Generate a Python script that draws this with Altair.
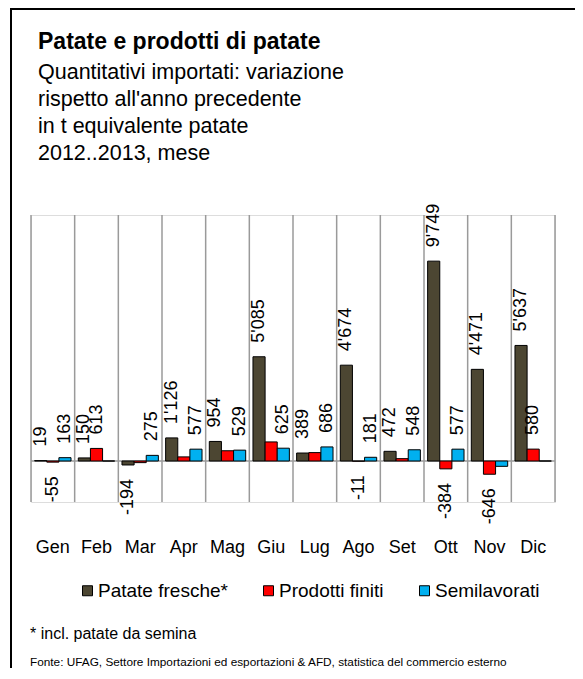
import altair as alt
import pandas as pd

months = ["Gen", "Feb", "Mar", "Apr", "Mag", "Giu", "Lug", "Ago", "Set", "Ott", "Nov", "Dic"]
series = ["Patate fresche*", "Prodotti finiti", "Semilavorati"]
colors = ["#4c4632", "#ff0000", "#00b0f0"]

fresche = [19, 150, -194, 1126, 954, 5085, 389, 4674, 472, 9749, 4471, 5637]
finiti = [-55, 613, -80, 200, 500, 930, 410, -11, 115, -384, -646, 580]
semilav = [163, 0, 275, 577, 529, 625, 686, 181, 548, 577, -260, 0]

show_fresche = [1, 1, 1, 1, 1, 1, 1, 1, 1, 1, 1, 1]
show_finiti = [1, 1, 0, 0, 0, 0, 0, 1, 0, 1, 1, 1]
show_semilav = [1, 0, 1, 1, 1, 1, 1, 1, 1, 1, 0, 0]

title = "Patate e prodotti di patate"
subtitle = ["Quantitativi importati: variazione",
            "rispetto all'anno precedente",
            "in t equivalente patate",
            "2012..2013, mese"]
footnote = "* incl. patate da semina"
source = "Fonte: UFAG, Settore Importazioni ed esportazioni & AFD, statistica del commercio esterno"

FONT = "Liberation Sans"
W, H = 524, 287
GRID = "#9a9a9a"

rows = []
for vals, shows, s in [(fresche, show_fresche, series[0]),
                       (finiti, show_finiti, series[1]),
                       (semilav, show_semilav, series[2])]:
    for m, v, sh in zip(months, vals, shows):
        rows.append({"month": m, "series": s, "value": v,
                     "label": (f"{v:,}".replace(",", "'") if sh else ""),
                     "neg": v < 0})
df = pd.DataFrame(rows)

yscale = alt.Scale(domain=[-2000, 12000], nice=False, zero=False)
xscale = alt.Scale(paddingInner=0, paddingOuter=0)
xaxis = alt.Axis(title=None, labelAngle=0, ticks=False, tickSize=0, domain=False, grid=False,
                 labelFontSize=18, labelFont=FONT, labelColor="black", labelPadding=36)
xoff = alt.XOffset("series:N", sort=series, scale=alt.Scale(paddingOuter=0.3, paddingInner=0))


def xenc(**kw):
    return alt.X("month:N", sort=months, scale=xscale, axis=xaxis, **kw)


base = alt.Chart(df)

zero = alt.Chart(pd.DataFrame({"y": [0]})).mark_rule(color=GRID, strokeWidth=1.5).encode(
    y=alt.Y("y:Q", scale=yscale, axis=None))

grid = alt.Chart(pd.DataFrame({"month": months})).mark_rule(color=GRID, strokeWidth=1.5).encode(
    x=xenc(bandPosition=0), y=alt.value(0), y2=alt.value(H))
grid_end = alt.Chart(pd.DataFrame({"month": ["Dic"]})).mark_rule(color=GRID, strokeWidth=1.5).encode(
    x=xenc(bandPosition=1), y=alt.value(0), y2=alt.value(H))

bars = base.mark_bar(stroke="black", strokeWidth=1).encode(
    x=xenc(),
    xOffset=xoff,
    y=alt.Y("value:Q", scale=yscale, axis=None),
    color=alt.Color("series:N", sort=series,
                    scale=alt.Scale(domain=series, range=colors),
                    legend=alt.Legend(title=None, orient="none", legendX=47, legendY=366,
                                      direction="horizontal", columns=3,
                                      symbolType="square", symbolSize=100,
                                      symbolStrokeColor="black", symbolStrokeWidth=1,
                                      labelFontSize=19, labelFont=FONT, labelColor="black",
                                      labelOffset=1, columnPadding=31, padding=0)),
)

lab_common = dict(angle=270, baseline="middle", fontSize=18, font=FONT, color="black")
lab_pos = base.transform_filter("datum.label != '' && !datum.neg").mark_text(
    align="left", dx=14, **lab_common).encode(
    x=xenc(), xOffset=xoff,
    y=alt.Y("value:Q", scale=yscale, axis=None), text="label:N")
lab_neg = base.transform_filter("datum.label != '' && datum.neg").mark_text(
    align="right", dx=-14, **lab_common).encode(
    x=xenc(), xOffset=xoff,
    y=alt.Y("value:Q", scale=yscale, axis=None), text="label:N")


def txt(s, x, y, size, bold=False):
    return alt.Chart(pd.DataFrame({"t": [s]})).mark_text(
        align="left", baseline="alphabetic", fontSize=size, font=FONT,
        fontWeight="bold" if bold else "normal", color="black").encode(
        text="t:N", x=alt.value(x), y=alt.value(y))


texts = [txt(title, 7, -166, 23, True)]
for i, line in enumerate(subtitle):
    texts.append(txt(line, 7, -136 + 27 * i, 21.5))
texts.append(txt(footnote, -1, 424, 16))
texts.append(txt(source, -1, 451, 11.8))

border_left = alt.Chart(pd.DataFrame({"a": [0]})).mark_rule(color="black", strokeWidth=2).encode(
    x=alt.value(-20), y=alt.value(-207), y2=alt.value(470))
border_top = alt.Chart(pd.DataFrame({"a": [0]})).mark_rule(color="black", strokeWidth=2).encode(
    x=alt.value(-20), x2=alt.value(560), y=alt.value(-206))

chart = alt.layer(zero, grid, grid_end, bars, lab_pos, lab_neg, *texts, border_left, border_top).properties(
    width=W, height=H,
    autosize=alt.AutoSizeParams(type="none"),
    padding={"left": 23, "top": 207, "right": 20, "bottom": 166},
).configure_view(stroke=None).configure(background="white")

chart.save("out.html", embed_options={"renderer": "svg", "actions": False})
